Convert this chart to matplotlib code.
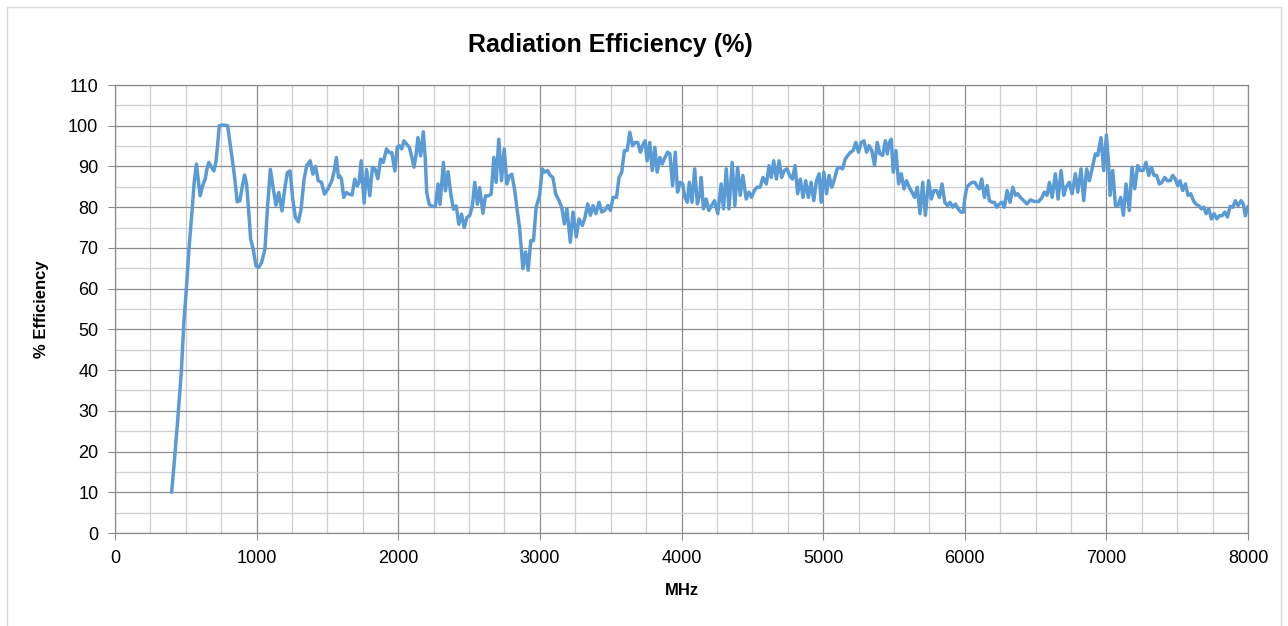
import numpy as np
import matplotlib
matplotlib.use("Agg")
import matplotlib.pyplot as plt
from matplotlib.ticker import MultipleLocator
from matplotlib.patches import Rectangle

# frequency (MHz) and efficiency (%)
freq = [
    400, 422, 445, 469, 486, 504, 523, 545, 559, 575, 587, 601, 618, 637, 649, 662, 681, 698,
    712, 724, 736, 764, 795, 811, 835, 849, 863, 882, 899, 915, 929, 943, 958, 976, 995, 1014,
    1035, 1059, 1076, 1097, 1118, 1137, 1156, 1179, 1198, 1217, 1236, 1255, 1274, 1295, 1314,
    1335, 1354, 1378, 1397, 1416, 1435, 1458, 1479, 1508, 1531, 1548, 1563, 1578,
    1587, 1599, 1615, 1634, 1653, 1674, 1693, 1710, 1724, 1738, 1759, 1776, 1799, 1818, 1837,
    1856, 1875, 1894, 1917, 1936, 1955, 1976, 1993, 2007, 2024, 2040, 2059, 2078, 2094, 2111,
    2125, 2139, 2158, 2177, 2191, 2201, 2219, 2238, 2262, 2281, 2295, 2319, 2333, 2352, 2371,
    2390, 2409, 2428, 2447, 2466, 2485, 2504, 2523, 2540, 2559, 2575, 2598, 2616, 2637, 2656,
    2675, 2691, 2710, 2729, 2748, 2767, 2785, 2802, 2823,
    2837, 2856, 2868, 2880, 2899, 2917, 2936, 2955, 2974, 2998, 3017, 3035, 3054, 3073, 3092,
    3111, 3135, 3154, 3173, 3191, 3215, 3234, 3257, 3276, 3300, 3319, 3338, 3357, 3376, 3395,
    3418, 3437, 3458, 3481, 3498, 3517, 3541, 3559, 3578, 3597, 3616, 3635, 3654, 3672, 3691,
    3710, 3725, 3743, 3757, 3776, 3793, 3812, 3828, 3847, 3864, 3883, 3902, 3918, 3937, 3956,
    3972, 3989, 4008, 4024, 4041, 4055, 4074, 4093, 4112, 4130,
    4139, 4155, 4174, 4193, 4212, 4233, 4256, 4280, 4297, 4316, 4335, 4358, 4377, 4396, 4415,
    4433, 4457, 4476, 4495, 4514, 4533, 4556, 4575, 4599, 4618, 4634, 4651, 4670, 4689, 4707,
    4726, 4745, 4764, 4783, 4802, 4820, 4839, 4858, 4877, 4896, 4915, 4934, 4953, 4972, 4986,
    5005, 5024, 5042, 5061, 5080, 5099, 5118, 5137, 5156, 5174, 5193, 5212, 5231, 5250, 5269,
    5288, 5307, 5325, 5344, 5363, 5382, 5401, 5420, 5439, 5453, 5467, 5481, 5495, 5514, 5533,
    5552, 5571, 5589, 5608, 5627, 5646, 5665, 5684, 5703, 5722, 5745, 5764, 5783, 5802, 5821,
    5840, 5859, 5878, 5896, 5915, 5934, 5953, 5972, 5991,
    5998, 6014, 6033, 6052, 6071, 6092, 6104, 6120, 6139, 6158, 6174, 6193, 6209, 6226, 6245,
    6264, 6280, 6299, 6320, 6339, 6358, 6374, 6393, 6417, 6440, 6463, 6491, 6522, 6546, 6562,
    6581, 6598, 6617, 6640, 6659, 6680, 6699, 6715, 6739, 6758, 6781, 6798, 6821, 6840, 6861,
    6880, 6899, 6922, 6939, 6962, 6981, 7000, 7016, 7026, 7045, 7064, 7082, 7101, 7120, 7139,
    7162, 7181, 7200, 7221, 7240, 7259, 7280, 7299, 7318, 7336, 7355, 7374, 7393, 7412, 7431,
    7450, 7469, 7487, 7504, 7520, 7539, 7558, 7577, 7596, 7615, 7634, 7652, 7671, 7688, 7704,
    7723, 7742, 7761, 7780, 7798, 7817, 7836, 7855, 7874, 7893, 7911, 7930, 7951, 7967, 7981,
    8000,
]
efficiency = [
    10, 18.9, 28.7, 40, 51.6, 60, 70, 79.5, 86, 90.6, 86.9, 82.8, 85.2, 86.9, 89.3, 91, 89.8, 88.9,
    91, 95, 100, 100.2, 100, 96, 90, 86, 81.3, 81.6, 85.2, 87.9, 85.7, 79.5, 72.1, 69.7, 65.6, 65.2,
    66.4, 69.7, 79.5, 89.3, 84.4, 80.5, 83.6, 79.1, 84.4, 88.5, 88.9, 82, 77.5, 76.4, 79.5,
    86.9, 90.2, 91.4, 88.1, 90, 86.5, 86.1, 83.2, 84.8, 86.5, 88.9, 92.2, 87.3,
    87.7, 86.9, 82.4, 83.6, 83.2, 83, 86.9, 85.2, 86.1, 91.4, 81, 89.3, 82.8, 89.8, 89.3,
    87, 91.8, 91, 94.3, 93.4, 93.4, 88.9, 94.7, 95.1, 94.3, 96.3, 95.5, 94.7, 92.6, 89.8,
    92.6, 97.1, 92.6, 98.5, 91.8, 83.6, 80.7, 80.2, 80.2, 85.7, 80.7, 91, 84, 88.7, 83.2,
    79.5, 80.3, 75.8, 78.3, 75, 77.5, 77.9, 80.2, 86.1, 80.7, 84.8, 78.5, 82.8, 82.8, 83.2,
    92.2, 86.1, 96.7, 86.5, 94.3, 85.7, 87.7, 88.1, 84,
    80, 75.1, 70.2, 64.9, 69, 64.5, 71.8, 71.8, 80, 82.9, 89.4, 88.6, 89, 87.8, 87.3,
    83.3, 81.6, 80, 75.9, 79.6, 71.4, 78.8, 72.7, 77.1, 75.5, 77.6, 80.8, 78, 80.4, 78.4,
    81.2, 78.8, 79.2, 80.4, 79.2, 82.4, 82.4, 87.3, 88.6, 93.9, 93.9, 98.4, 95.1, 95.9, 95.9,
    93.5, 95.1, 96.3, 91.4, 95.9, 89, 94.7, 88.6, 92.2, 90.6, 92.2, 93.5, 93.1, 85.3, 93.5,
    83.7, 86.1, 85.7, 82.4, 81.2, 86.1, 81.2, 89.4, 80.8, 83.3,
    87.3, 79.6, 82, 79.2, 80.4, 81.6, 78.4, 85.7, 79.6, 89.4, 79.6, 91, 80.4, 89.8, 82.9,
    87.8, 82, 83.7, 82.4, 84.1, 84.9, 84.9, 87.3, 85.7, 90.2, 87.3, 91.4, 86.9, 91.4, 87.3,
    89, 89.4, 87.8, 86.9, 90.2, 83.3, 86.9, 82.4, 86.5, 82.4, 86.1, 81.6, 86.5, 88.2, 81.2,
    88.6, 83.3, 87.8, 84.9, 86.9, 89.4, 89.8, 89.4, 91.8, 92.7, 93.5, 93.9, 95.9, 93.5, 95.9,
    96.3, 93.5, 95.1, 93.9, 90.2, 95.9, 93.1, 92.7, 96.3, 93.1, 95.9, 96.7, 88.6, 93.9, 85.7,
    88.2, 84.5, 86.5, 84.9, 83.7, 82.4, 84.9, 78.4, 86.1, 78, 86.5, 82, 84.1, 84.1, 82.4,
    85.7, 81.2, 80.4, 81.2, 80, 80.8, 79.6, 78.8, 78.8,
    81.6, 84.9, 85.6, 86.1, 86.1, 84.9, 84.5, 86.9, 82.4, 85.3, 81.6, 81.2, 81.2, 80, 80.8,
    81.2, 80, 84.1, 81.2, 84.9, 82.9, 83.3, 82.4, 81.6, 80.8, 81.8, 81.4, 81.4, 82.4, 83.7,
    82.9, 86.1, 82.4, 88.2, 82, 89, 82.9, 84.9, 86.1, 83.3, 88.2, 83.7, 89.4, 81.6, 89.4,
    86.5, 89.4, 93.1, 92.7, 97.1, 89, 97.7, 90.6, 82.9, 89, 80.4, 80.4, 82.4, 78, 85.7,
    79.2, 89.8, 84.5, 90.2, 89, 89, 91, 87.8, 89.8, 87.8, 87.8, 85.7, 86.1, 87.3, 86.5,
    86.5, 87.8, 86.9, 85.3, 86.5, 84.1, 85.7, 82.9, 83.3, 81.6, 80.7, 80.4, 79.6, 80, 78.4,
    79.6, 77.1, 78.4, 77.1, 77.9, 77.9, 78.8, 77.6, 80.2, 80, 81.6, 80.4, 81.6, 80.8, 77.9,
    80.2,
]

W, H = 1288, 626
fig = plt.figure(figsize=(W / 100, H / 100), dpi=100)
fig.patches.append(Rectangle((7 / W, -0.05), (1281 - 7) / W, (H - 7) / H + 0.05,
                             transform=fig.transFigure, fill=False,
                             edgecolor='#D9D9D9', linewidth=1.0))

ax = fig.add_axes([115 / W, (H - 533) / H, (1248 - 115) / W, (533 - 85) / H])

ax.plot(freq, efficiency, color='#5B9BD5', linewidth=2.5,
        solid_joinstyle='round', solid_capstyle='round')

ax.set_xlim(0, 8000)
ax.set_ylim(0, 110)
ax.xaxis.set_major_locator(MultipleLocator(1000))
ax.xaxis.set_minor_locator(MultipleLocator(250))
ax.yaxis.set_major_locator(MultipleLocator(10))
ax.yaxis.set_minor_locator(MultipleLocator(5))
ax.grid(which='major', color='#8C8C8C', linewidth=0.9)
ax.grid(which='minor', color='#CFCFCF', linewidth=0.9)
ax.set_axisbelow(True)

for s in ax.spines.values():
    s.set_color('#8C8C8C')
    s.set_linewidth(0.9)

font = 'Liberation Sans'
ax.tick_params(which='major', direction='out', length=5, color='#8C8C8C',
               labelsize=13, labelcolor='black', pad=7)
ax.tick_params(which='minor', length=0)
for lab in ax.get_xticklabels() + ax.get_yticklabels():
    lab.set_fontfamily(font)

ax.set_xlabel('MHz', fontsize=12, fontweight='bold', family=font, labelpad=12)
ax.set_ylabel('% Efficiency', fontsize=12, fontweight='bold', family=font, labelpad=14)
fig.text(610 / W, 1 - 45 / H, 'Radiation Efficiency (%)', ha='center', va='center',
         fontsize=18, fontweight='bold', family=font)

fig.savefig('out.png', dpi=100)
